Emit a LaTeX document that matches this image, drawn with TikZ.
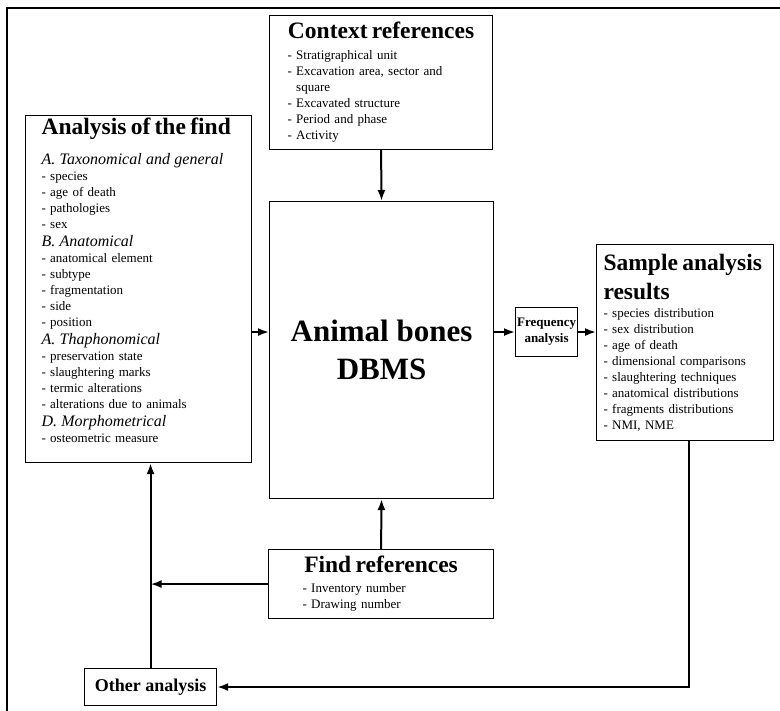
\documentclass[tikz,border=0pt]{standalone}
\usepackage{fontspec}
\setmainfont{Liberation Serif}
\usetikzlibrary{arrows.meta}
\tikzset{
  box/.style={draw,line width=1.1pt,anchor=north west,align=left,inner ysep=2pt,font=\fontsize{13}{16}\selectfont},
  arr/.style={->,line width=2pt}
}
\newcommand\boxtitle{\fontsize{23.5}{16}\selectfont\bfseries}
\newcommand\boxsub{\fontsize{16}{16}\selectfont\itshape}
\begin{document}
\begin{tikzpicture}[x=1pt,y=-1pt,>={Latex[length=11pt,width=8pt]}]
      \useasboundingbox (0,0) rectangle (780,711);
      \draw[line width=1.5pt] (7,711)--(7,8)--(780,8);
      \node (ctx) at (269,15)[box,text width=187pt,inner xsep=18pt,minimum height=134pt]{\makebox[\hsize]{\boxtitle Context references}\\[5pt]
        - Stratigraphical unit\\- Excavation area, sector and\\\hphantom{- }square\\- Excavated structure\\- Period and phase\\- Activity};
      \node (afind) at (25,115)[box,text width=194pt,inner xsep=16pt,minimum height=347pt]{{\boxtitle Analysis of the find}\\[13pt]
        {\boxsub A. Taxonomical and general}\\- species\\- age of death\\- pathologies\\- sex\\[2pt]
        {\boxsub B. Anatomical}\\- anatomical element\\- subtype\\- fragmentation\\- side\\- position\\[2pt]
        {\boxsub A. Thaphonomical}\\- preservation state\\- slaughtering marks\\- termic alterations\\- alterations due to animals\\[2pt]
        {\boxsub D. Morphometrical}\\- osteometric measure\rule[-17pt]{0pt}{17pt}};
      \node (dbms) at (269,201)[box,align=center,minimum width=224pt,minimum height=297pt,font=\fontsize{31}{38}\selectfont\bfseries]{Animal bones\\DBMS};
      \node (freq) at (515,307)[box,align=center,inner sep=1pt,minimum width=62pt,minimum height=49pt,font=\fontsize{13}{16}\selectfont\bfseries]{Frequency\\analysis};
      \node (sample) at (596,244)[box,text width=163pt,inner xsep=7pt,minimum height=196pt]{{\boxtitle Sample analysis\\[7pt]results}\\[2pt]
        - species distribution\\- sex distribution\\- age of death\\- dimensional comparisons\\- slaughtering techniques\\- anatomical distributions\\- fragments distributions\\- NMI, NME};
      \node (find) at (268,549)[box,text width=157pt,inner xsep=34pt,minimum height=69pt]{\makebox[\hsize]{\boxtitle Find references}\\[4pt]- Inventory number\\- Drawing number};
      \node (other) at (84,668)[box,align=center,minimum width=132pt,minimum height=37pt,font=\fontsize{18}{20}\selectfont\bfseries]{Other analysis};
      \draw[arr] (ctx.south)--(dbms.north);\draw[arr] (find.north)--(dbms.south);
      \draw[arr] (afind.east |- freq.west)--(dbms.west |- freq.west);
      \draw[arr] (dbms.east |- freq.west)--(freq.west);\draw[arr] (freq.east)--(sample.west |- freq.east);
      \draw[arr] (other.north)--(other.north |- afind.south);
      \draw[arr] (find.west)--(find.west -| other.north);
      \draw[arr] ([xshift=4pt]sample.south) |- (other.east);
     \end{tikzpicture}
\end{document}
